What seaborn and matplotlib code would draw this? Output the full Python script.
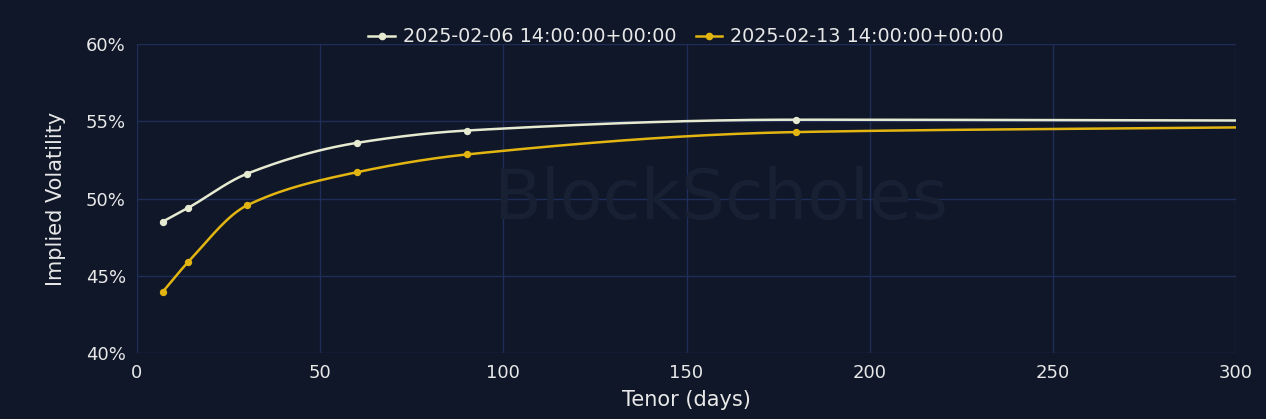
import numpy as np
import pandas as pd
import seaborn as sns
import matplotlib.pyplot as plt

# Tenor points (days) and implied vol (%)
tenor = [7, 14, 30, 60, 90, 180, 300]
iv_feb06 = [48.5, 49.4, 51.6, 53.6, 54.4, 55.1, 55.05]
iv_feb13 = [43.95, 45.9, 49.55, 51.7, 52.85, 54.3, 54.6]
marked = [True, True, True, True, True, True, False]   # last point has no marker
labels = ['2025-02-06 14:00:00+00:00', '2025-02-13 14:00:00+00:00']
colors = ['#e6ead0', '#e3b511']

bg = '#0f1729'
grid = '#1f2e58'
txt = '#e8e8e8'


def smooth(x, y, n=60):
    # monotone cubic path through the points (spline-shaped line)
    x = np.asarray(x, float)
    y = np.asarray(y, float)
    h = np.diff(x)
    d = np.diff(y) / h
    m = np.zeros_like(y)
    m[0], m[-1] = d[0], d[-1]
    for i in range(1, len(y) - 1):
        if d[i - 1] * d[i] > 0:
            w1 = 2 * h[i] + h[i - 1]
            w2 = h[i] + 2 * h[i - 1]
            m[i] = (w1 + w2) / (w1 / d[i - 1] + w2 / d[i])
    xs, ys = [], []
    for i in range(len(x) - 1):
        t = np.linspace(0, 1, n)
        h00 = 2 * t**3 - 3 * t**2 + 1
        h10 = t**3 - 2 * t**2 + t
        h01 = -2 * t**3 + 3 * t**2
        h11 = t**3 - t**2
        xs.extend(x[i] + t * h[i])
        ys.extend(h00 * y[i] + h10 * h[i] * m[i] + h01 * y[i + 1] + h11 * h[i] * m[i + 1])
    return np.array(xs), np.array(ys)


fig = plt.figure(figsize=(12.66, 4.19), dpi=100, facecolor=bg)
ax = fig.add_axes([137 / 1266, 1 - 353 / 419, (1236 - 137) / 1266, (353 - 44) / 419])
ax.set_facecolor(bg)

fig.text(721 / 1266, 1 - 200 / 419, 'BlockScholes', fontsize=50,
         color='#182134', ha='center', va='center', zorder=0)

handles = []
for vals, lab, col in zip([iv_feb06, iv_feb13], labels, colors):
    sx, sy = smooth(tenor, vals)
    sns.lineplot(x=sx, y=sy, sort=False, color=col, lw=1.8, ax=ax, zorder=3, legend=False)
    df = pd.DataFrame({'t': tenor, 'v': vals, 'm': marked})
    df = df[df.m]
    sns.scatterplot(data=df, x='t', y='v', color=col, s=28, ax=ax, zorder=4,
                    edgecolor=col, linewidth=0, legend=False)
    h, = ax.plot([], [], color=col, lw=1.8, marker='o', ms=4.5, label=lab)
    handles.append(h)

ax.set_xlim(0, 300)
ax.set_ylim(40, 60)
ax.set_xticks(range(0, 301, 50))
ax.set_yticks(range(40, 61, 5))
ax.set_yticklabels([f'{v}%' for v in range(40, 61, 5)])
ax.grid(True, color=grid, lw=1)
ax.set_axisbelow(True)
for s in ax.spines.values():
    s.set_visible(False)
ax.tick_params(colors=txt, labelsize=13, length=0, pad=8)
ax.set_xlabel('Tenor (days)', color=txt, fontsize=15, labelpad=6)
ax.set_ylabel('Implied Volatility', color=txt, fontsize=15, labelpad=14)
if ax.get_legend() is not None:
    ax.get_legend().remove()

fig.legend(handles=handles, loc='center', bbox_to_anchor=(686 / 1266, 1 - 37 / 419),
           ncol=2, frameon=False, fontsize=13.8, handlelength=1.4,
           handletextpad=0.4, columnspacing=1.0, labelcolor=txt)

fig.savefig('out.png', dpi=100, facecolor=bg)
